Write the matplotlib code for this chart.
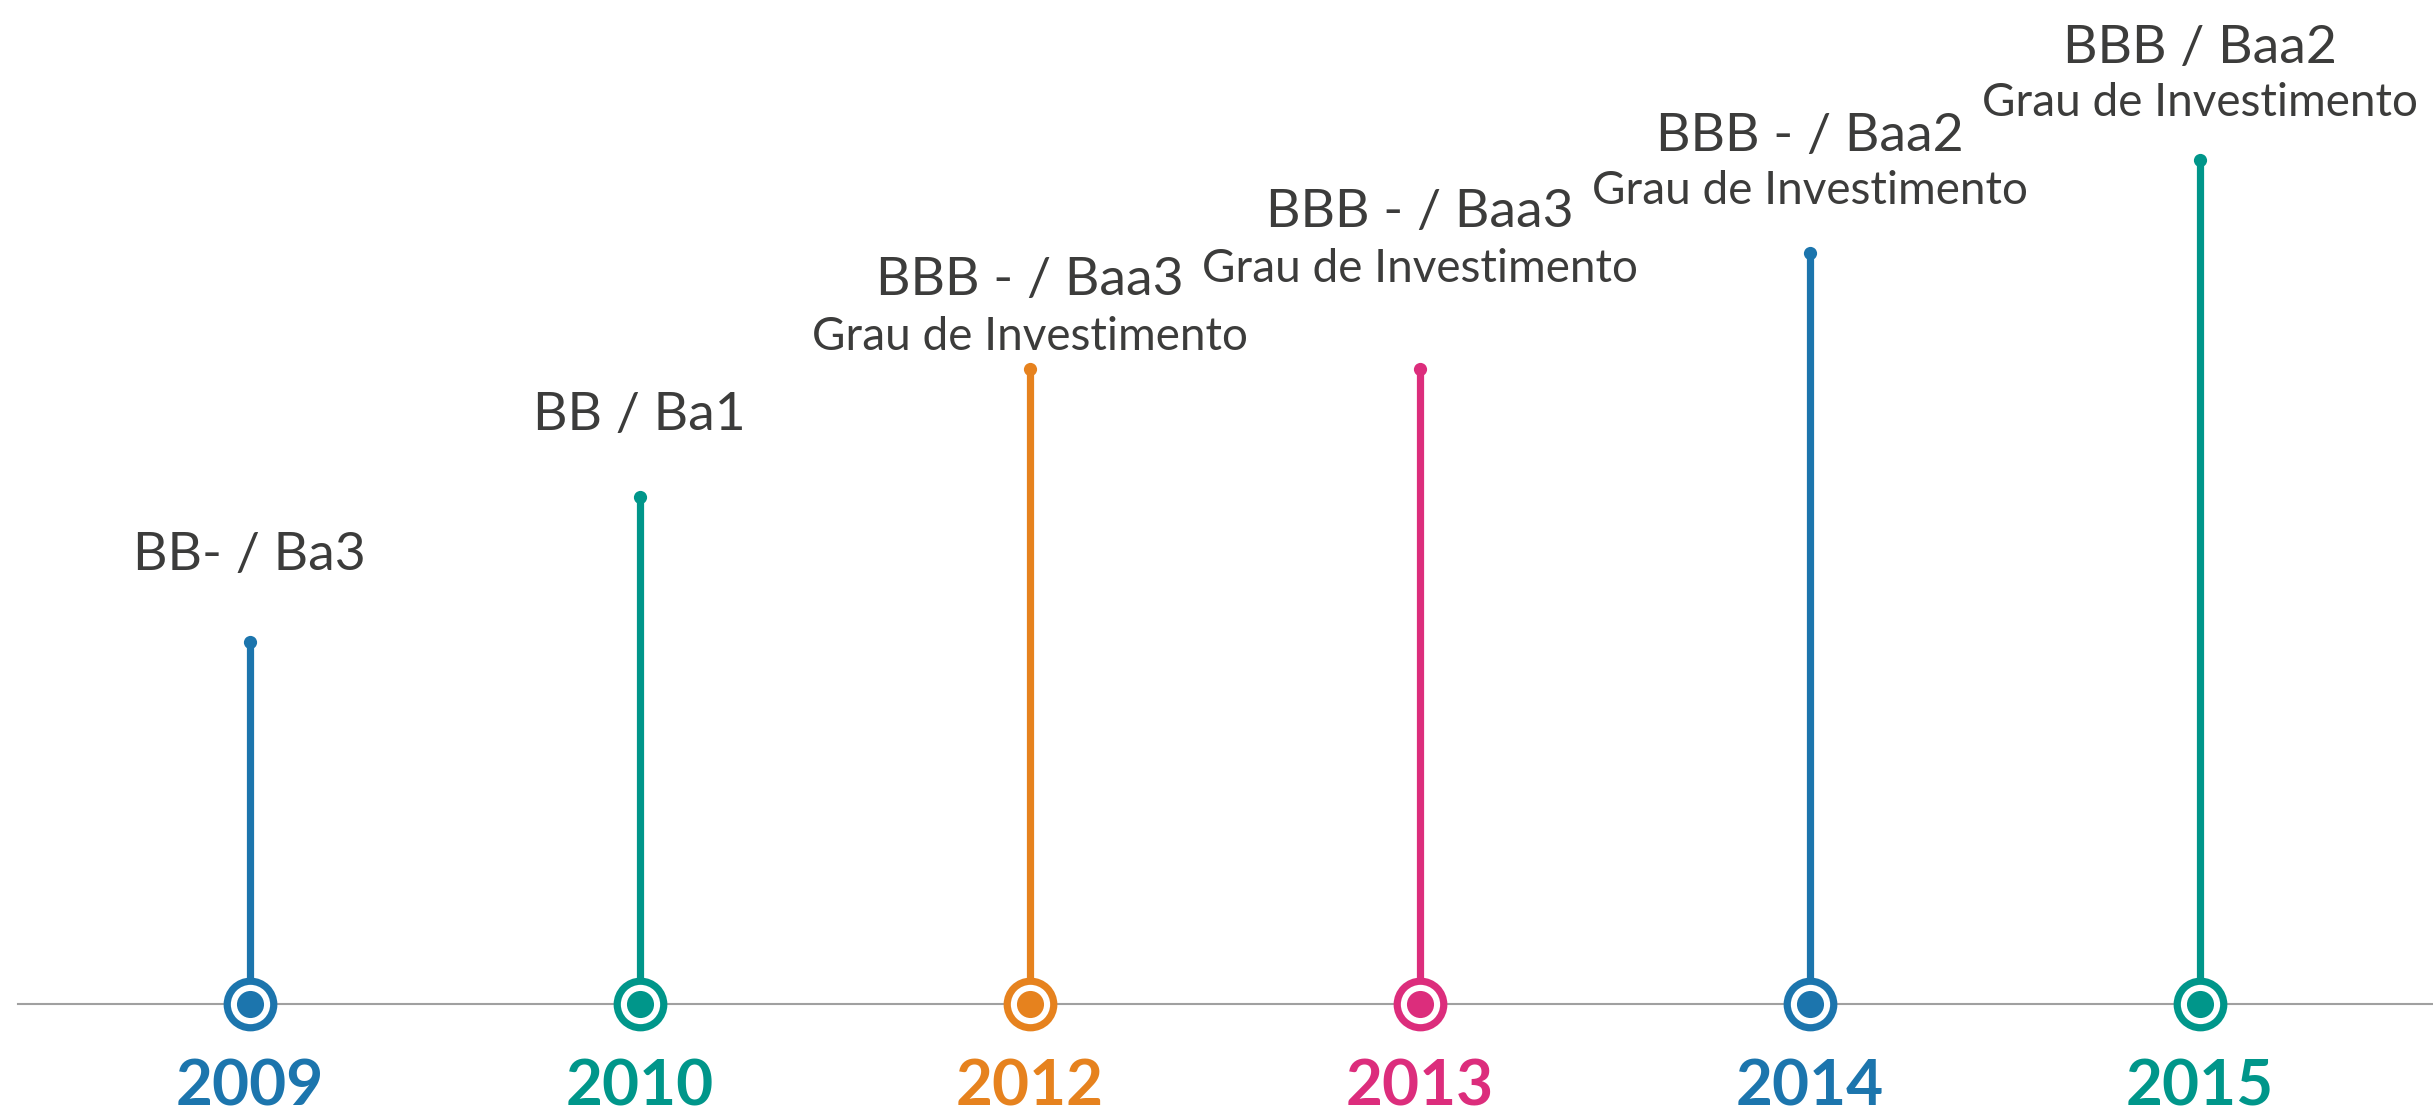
import matplotlib
matplotlib.use("Agg")
import matplotlib.pyplot as plt

# ---- data ----
years = ["2009", "2010", "2012", "2013", "2014", "2015"]
ratings = ["BB- / Ba3", "BB / Ba1", "BBB - / Baa3", "BBB - / Baa3", "BBB - / Baa2", "BBB / Baa2"]
subtitles = ["", "", "Grau de Investimento", "Grau de Investimento",
             "Grau de Investimento", "Grau de Investimento"]
levels = [3.62, 5.07, 6.35, 6.35, 7.51, 8.44]
colors = ["#1c75ad", "#00968a", "#e6821e", "#dc2d7c", "#1c75ad", "#00968a"]

TEXT = "#3c3c3b"
W, H, DPI = 2433, 1114, 100

fig = plt.figure(figsize=(W / DPI, H / DPI), dpi=DPI)
ax = fig.add_axes([0, 0, 1, 1])
ax.set_axis_off()

xs = list(range(len(years)))
unit = 390.1
x0 = 249.5
ax.set_xlim(-x0 / unit, (W - x0) / unit)
ax.set_ylim(-1.10, (H - 110) / 100)

# baseline
ax.axhline(0, xmin=18 / W, xmax=1, color="#a0a0a0", lw=1.5, zorder=1)

# label offsets (px): rating line / subtitle line above top dot
rating_off = [86, 81, 88, 156, 116, 111]
sub_off = [0, 0, 32, 100, 62, 57]

for x, lv, c, yr, rt, st, ro, so in zip(xs, levels, colors, years, ratings, subtitles, rating_off, sub_off):
    ax.plot([x, x], [0, lv], color=c, lw=5.2, solid_capstyle="butt", zorder=2)
    ax.plot([x], [lv], "o", color=c, ms=9.5, mew=0, zorder=3)
    ax.plot([x], [0], "o", mfc="white", mec=c, ms=33.5, mew=5.2, zorder=4)
    ax.plot([x], [0], "o", color=c, ms=19.5, mew=0, zorder=5)
    ax.annotate(yr, (x, 0), xytext=(0, -101 * 72 / DPI), textcoords="offset points",
                ha="center", va="baseline", color=c, fontsize=46,
                family="Lato", fontweight="bold")
    ax.annotate(rt, (x, lv), xytext=(0, ro * 72 / DPI), textcoords="offset points",
                ha="center", va="center", color=TEXT, fontsize=38.5, family="Lato")
    if st:
        ax.annotate(st, (x, lv), xytext=(0, so * 72 / DPI), textcoords="offset points",
                    ha="center", va="center", color=TEXT, fontsize=33, family="Lato")

fig.savefig("out.png", dpi=DPI, facecolor="white")
